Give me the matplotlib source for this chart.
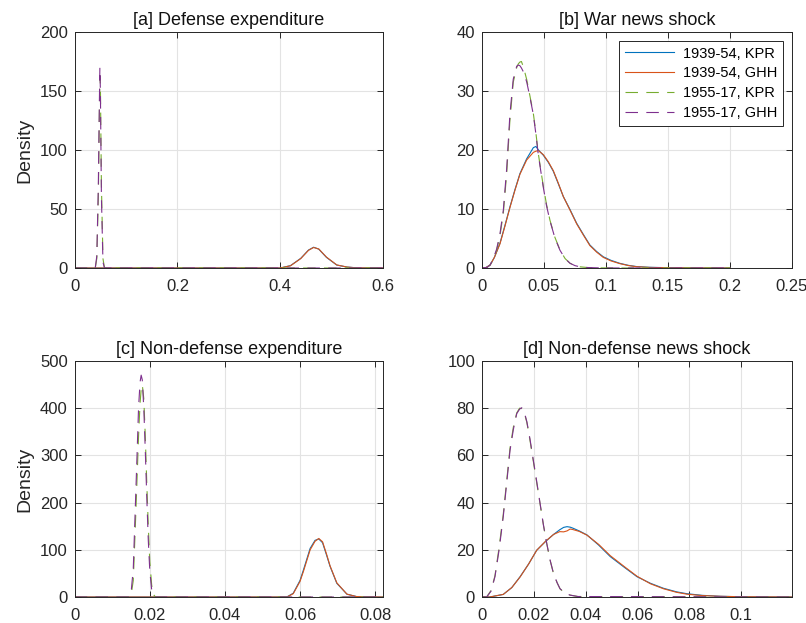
import matplotlib
matplotlib.use("Agg")
import matplotlib.pyplot as plt
from matplotlib.ticker import FuncFormatter

plt.rcParams['font.family'] = ['Liberation Sans', 'DejaVu Sans']
plt.rcParams['lines.scale_dashes'] = False

labels = ["1939-54, KPR", "1939-54, GHH", "1955-17, KPR", "1955-17, GHH"]
titles = ["[a] Defense expenditure", "[b] War news shock",
          "[c] Non-defense expenditure", "[d] Non-defense news shock"]

# ---- panel a ----
a_x_s = [0, 0.40, 0.42, 0.44, 0.455, 0.465, 0.475, 0.49, 0.51, 0.53, 0.55, 0.6]
a_y_kpr39 = [0, 0, 2.0, 8.2, 15.2, 17.6, 16.0, 9.0, 2.5, 0.8, 0.1, 0]
a_y_ghh39 = [0, 0, 1.9, 8.0, 15.0, 17.4, 16.1, 9.2, 2.6, 0.8, 0.1, 0]
a_x_d = [0, 0.040, 0.043, 0.046, 0.048, 0.049, 0.050, 0.052, 0.055, 0.058, 0.6]
a_y_kpr55 = [0, 0, 8, 60, 130, 163, 155, 70, 8, 0, 0]
a_y_ghh55 = [0, 0, 10, 70, 140, 170, 150, 60, 5, 0, 0]

# ---- panel b ----
b_x_s = [0, 0.003, 0.0065, 0.010, 0.0145, 0.0185, 0.0226, 0.0266, 0.0306, 0.036,
         0.0414, 0.0435, 0.0455, 0.0495, 0.0535, 0.0575, 0.0615, 0.0656, 0.071,
         0.0763, 0.0817, 0.087, 0.0924, 0.0978, 0.104, 0.111, 0.118, 0.1245,
         0.135, 0.15, 0.17, 0.2]
b_y_kpr39 = [0, 0.05, 0.5, 1.8, 4.2, 7.2, 10.4, 13.3, 16.0, 18.5, 20.4, 20.6, 20.0,
             19.1, 17.9, 16.4, 14.3, 12.1, 9.9, 7.6, 5.7, 3.9, 2.8, 1.9, 1.3, 0.8,
             0.45, 0.25, 0.12, 0.05, 0.01, 0]
b_y_ghh39 = [0, 0.05, 0.5, 1.8, 4.1, 7.1, 10.3, 13.2, 15.9, 18.3, 19.6, 19.8, 19.9,
             19.2, 18.0, 16.5, 14.4, 12.1, 9.8, 7.5, 5.6, 3.8, 2.7, 1.8, 1.2, 0.75,
             0.42, 0.22, 0.1, 0.04, 0.01, 0]
b_x_d = [0, 0.004, 0.0065, 0.009, 0.0118, 0.0145, 0.0172, 0.0199, 0.0225, 0.0252,
         0.028, 0.0293, 0.0305, 0.0318, 0.0335, 0.0361, 0.0388, 0.0414, 0.0434,
         0.0454, 0.0475, 0.0495, 0.052, 0.0548, 0.0588, 0.0629, 0.067, 0.071,
         0.075, 0.079, 0.085, 0.095, 0.11, 0.2]
b_y_kpr55 = [0, 0.1, 0.5, 1.4, 3.0, 5.5, 9.3, 16.0, 25.0, 31.5, 34.0, 34.6, 34.9,
             35.0, 34.0, 31.9, 29.0, 26.2, 23.0, 19.4, 16.5, 13.8, 10.8, 8.1, 5.2,
             3.05, 1.6, 0.8, 0.4, 0.2, 0.08, 0.02, 0, 0]
b_y_ghh55 = [0, 0.1, 0.5, 1.5, 3.2, 5.8, 9.8, 16.8, 26.0, 32.0, 34.2, 34.4, 34.3,
             33.9, 33.2, 31.5, 28.8, 26.0, 22.8, 19.2, 16.3, 13.6, 10.6, 8.0, 5.1,
             3.0, 1.6, 0.8, 0.4, 0.2, 0.08, 0.02, 0, 0]

# ---- panel c ----
c_x_s = [0, 0.0565, 0.0582, 0.060, 0.0609, 0.0627, 0.064, 0.065, 0.066, 0.0671,
         0.068, 0.0698, 0.0725, 0.075, 0.077, 0.082]
c_y_kpr39 = [0, 0, 8, 35, 57, 103, 120, 123, 115, 88, 65, 29, 6, 1, 0.2, 0]
c_y_ghh39 = [0, 0, 7, 33, 54, 100, 118, 124, 117, 90, 66, 30, 6, 1, 0.2, 0]
c_x_d = [0, 0.0145, 0.015, 0.0156, 0.0161, 0.0166, 0.017, 0.0174, 0.0177, 0.018,
         0.0184, 0.0188, 0.0192, 0.0196, 0.020, 0.0205, 0.021, 0.0215, 0.082]
c_y_kpr55 = [0, 0, 3, 35, 140, 250, 340, 410, 440, 450, 420, 340, 240, 150, 75,
             25, 5, 0, 0]
c_y_ghh55 = [0, 0, 8, 60, 180, 300, 400, 455, 470, 460, 400, 310, 210, 120, 55,
             15, 2, 0, 0]

# ---- panel d ----
d_x_s = [0, 0.003, 0.0082, 0.0115, 0.0147, 0.018, 0.0211, 0.0245, 0.0276, 0.030,
         0.0315, 0.0328, 0.034, 0.035, 0.0375, 0.0405, 0.045, 0.0495, 0.055,
         0.0598, 0.065, 0.07, 0.075, 0.079, 0.085, 0.092, 0.1, 0.12]
d_y_kpr39 = [0, 0, 1.1, 4.0, 8.6, 14.0, 19.8, 23.5, 26.5, 28.5, 29.5, 29.8, 29.6,
             29.2, 28.0, 26.3, 22.0, 17.1, 12.5, 8.6, 5.8, 3.7, 2.2, 1.4, 0.7, 0.3,
             0.1, 0]
d_y_ghh39 = [0, 0, 1.1, 4.0, 8.5, 14.0, 19.8, 23.6, 26.5, 27.7, 27.6, 28.0, 28.8,
             28.6, 27.8, 26.2, 22.3, 17.5, 12.8, 8.8, 5.6, 3.5, 2.0, 1.2, 0.6, 0.3,
             0.1, 0]
d_x_d = [0, 0.0018, 0.0035, 0.005, 0.0066, 0.0082, 0.0095, 0.0108, 0.0121, 0.0134,
         0.0145, 0.0153, 0.0163, 0.0173, 0.0185, 0.0198, 0.0211, 0.0224, 0.0237,
         0.025, 0.0263, 0.0276, 0.029, 0.0301, 0.032, 0.034, 0.037, 0.12]
d_y_kpr55 = [0, 0, 2.8, 9.0, 21, 35, 49, 63, 72, 78, 80.0, 79.8, 78.0, 74.0, 66.5,
             57.5, 48.5, 39.5, 30.5, 22.5, 15.5, 9.9, 6.0, 3.5, 1.6, 0.8, 0.2, 0]
d_y_ghh55 = [0, 0, 2.5, 8.6, 20, 34, 48, 62, 71, 77.7, 79.6, 80.2, 78.5, 74.3, 67,
             58, 49, 39.7, 30.5, 22.6, 15.5, 9.9, 6.0, 3.5, 1.6, 0.8, 0.2, 0]

panels = [
    (a_x_s, a_y_kpr39, a_y_ghh39, a_x_d, a_y_kpr55, a_y_ghh55),
    (b_x_s, b_y_kpr39, b_y_ghh39, b_x_d, b_y_kpr55, b_y_ghh55),
    (c_x_s, c_y_kpr39, c_y_ghh39, c_x_d, c_y_kpr55, c_y_ghh55),
    (d_x_s, d_y_kpr39, d_y_ghh39, d_x_d, d_y_kpr55, d_y_ghh55),
]
xlims = [(0, 0.6), (0, 0.25), (0, 0.0821), (0, 0.1196)]
ylims = [(0, 200), (0, 40), (0, 500), (0, 100)]
xticks = [[0, 0.2, 0.4, 0.6], [0, 0.05, 0.1, 0.15, 0.2, 0.25],
          [0, 0.02, 0.04, 0.06, 0.08], [0, 0.02, 0.04, 0.06, 0.08, 0.1]]
yticks = [[0, 50, 100, 150, 200], [0, 10, 20, 30, 40],
          [0, 100, 200, 300, 400, 500], [0, 20, 40, 60, 80, 100]]

colors = ['#0072BD', '#D95319', '#77AC30', '#7E2F8E']
W, H = 806, 623
rects = [(74.7, 32, 383, 268), (482, 32, 792, 268),
         (74.7, 361, 383, 597), (482, 361, 792, 597)]

fig = plt.figure(figsize=(W / 100, H / 100), dpi=100)
fmt = FuncFormatter(lambda v, p: '%g' % round(v, 6))
for i, (xs, y1, y2, xd, y3, y4) in enumerate(panels):
    l, t, r, b = rects[i]
    ax = fig.add_axes([l / W, 1 - b / H, (r - l) / W, (b - t) / H])
    lw = 0.8
    ax.plot(xs, y1, color=colors[0], lw=lw, label=labels[0])
    ax.plot(xs, y2, color=colors[1], lw=lw, label=labels[1])
    ax.plot(xd, y3, color=colors[2], lw=lw, dashes=(9, 6), label=labels[2])
    ax.plot(xd, y4, color=colors[3], lw=lw, dashes=(9, 6), label=labels[3])
    ax.set_xlim(*xlims[i])
    ax.set_ylim(*ylims[i])
    ax.set_xticks(xticks[i])
    ax.set_yticks(yticks[i])
    ax.xaxis.set_major_formatter(fmt)
    ax.yaxis.set_major_formatter(fmt)
    ax.grid(True, color='#e3e3e3', lw=0.8)
    ax.set_axisbelow(True)
    ax.tick_params(direction='in', top=True, right=True, length=4, width=0.7,
                   labelsize=12, colors='#262626')
    ax.tick_params(axis='x', pad=8)
    ax.tick_params(axis='y', pad=5)
    for s in ax.spines.values():
        s.set_color('#262626')
        s.set_linewidth(0.7)
    ax.set_title(titles[i], fontsize=13, color='#111111', pad=5)
    if i % 2 == 0:
        ax.set_ylabel('Density', fontsize=14, color='#262626', labelpad=5)
    if i == 1:
        leg = ax.legend(loc='upper right', fontsize=10.5, handlelength=3.4,
                        fancybox=False, framealpha=1, edgecolor='#262626',
                        borderaxespad=0.6, labelspacing=0.4, handletextpad=0.6,
                        borderpad=0.4)
        leg.get_frame().set_linewidth(0.7)

fig.savefig('out.png', dpi=100)
